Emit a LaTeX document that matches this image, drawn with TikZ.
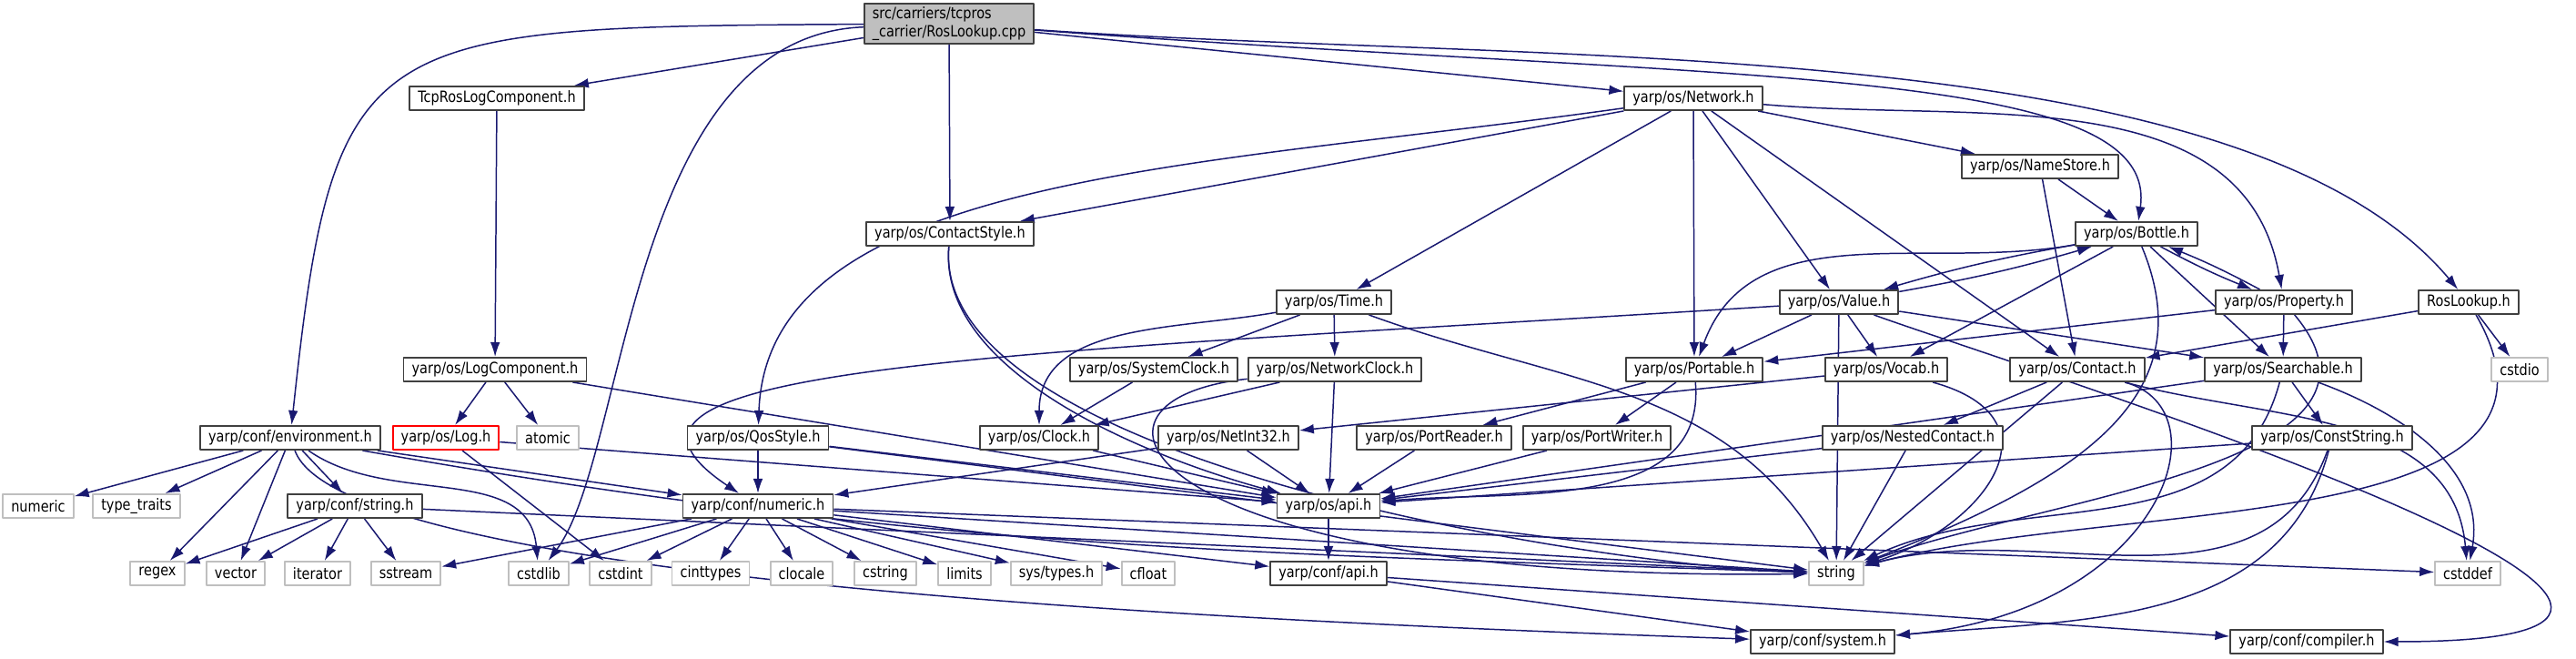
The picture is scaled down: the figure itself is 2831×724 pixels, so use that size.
\documentclass[tikz,border=0pt]{standalone}
\usepackage{fontspec}
\setmainfont{DejaVu Sans}[FakeStretch=0.85]
\usetikzlibrary{arrows.meta}

\definecolor{linkblue}{HTML}{191970}
\definecolor{sysgray}{HTML}{BFBFBF}
\definecolor{boxedge}{HTML}{404040}

\pgfdeclarelayer{edges}
\pgfsetlayers{edges,main}

\begin{document}
\begin{tikzpicture}[x=0.1875pt, y=0.1875pt, line cap=round, line join=round,
    dep/.style={draw=linkblue, line width=0.28pt, -{Latex[length=3pt,width=2pt]}},
    every edge/.style={dep}]

    % Stile dei blocchi
    \tikzset{file/.style={draw=boxedge, line width=0.35pt, fill=white, rectangle, minimum height=4.9pt,
                          inner xsep=1.7pt, inner ysep=0.6pt, font=\fontsize{3.2}{3.8}\selectfont},
             sys/.style={file, draw=sysgray},
             missing/.style={file, draw=red},
             rootfile/.style={file, fill=sysgray, align=left}}

    \useasboundingbox (0,0) rectangle (2831,-724);

    % Livello 0-3
    \node[rootfile] (root) at (1043,-26) {src/carriers/tcpros\\\_carrier/RosLookup.cpp};
    \node[file] (tcplog) at (546,-108) {TcpRosLogComponent.h};
    \node[file] (network) at (1861,-108) {yarp/os/Network.h};
    \node[file] (namestore) at (2242,-183) {yarp/os/NameStore.h};
    \node[file] (cstyle) at (1044,-257) {yarp/os/ContactStyle.h};
    \node[file] (bottle) at (2348,-257) {yarp/os/Bottle.h};
    \node[file] (time) at (1466,-332) {yarp/os/Time.h};
    \node[file] (value) at (2021,-332) {yarp/os/Value.h};
    \node[file] (property) at (2510,-332) {yarp/os/Property.h};
    \node[file] (roslookuph) at (2713,-332) {RosLookup.h};

    % Livello 4
    \node[file] (logcomp) at (544,-406) {yarp/os/LogComponent.h};
    \node[file] (sysclock) at (1268,-406) {yarp/os/SystemClock.h};
    \node[file] (netclock) at (1467,-406) {yarp/os/NetworkClock.h};
    \node[file] (portable) at (1862,-406) {yarp/os/Portable.h};
    \node[file] (vocab) at (2073,-406) {yarp/os/Vocab.h};
    \node[file] (contact) at (2283,-406) {yarp/os/Contact.h};
    \node[file] (searchable) at (2509,-406) {yarp/os/Searchable.h};
    \node[sys] (cstdio) at (2769,-406) {cstdio};

    % Livello 5
    \node[file] (env) at (319,-481) {yarp/conf/environment.h};
    \node[missing] (log) at (490,-481) {yarp/os/Log.h};
    \node[sys] (atomic) at (602,-481) {atomic};
    \node[file] (qos) at (833,-481) {yarp/os/QosStyle.h};
    \node[file] (clock) at (1142,-481) {yarp/os/Clock.h};
    \node[file] (netint) at (1350,-481) {yarp/os/NetInt32.h};
    \node[file] (preader) at (1576,-481) {yarp/os/PortReader.h};
    \node[file] (pwriter) at (1755,-481) {yarp/os/PortWriter.h};
    \node[file] (nested) at (2102,-481) {yarp/os/NestedContact.h};
    \node[file] (conststr) at (2563,-481) {yarp/os/ConstString.h};

    % Livello 6
    \node[sys] (stdnumeric) at (42,-556) {numeric};
    \node[sys] (typetraits) at (150,-556) {type\_traits};
    \node[file] (confstring) at (390,-556) {yarp/conf/string.h};
    \node[file] (confnumeric) at (833,-556) {yarp/conf/numeric.h};
    \node[file] (osapi) at (1460,-556) {yarp/os/api.h};

    % Livello 7-8
    \node[sys] (regex) at (173,-630) {regex};
    \node[sys] (vector) at (259,-630) {vector};
    \node[sys] (iterator) at (349,-630) {iterator};
    \node[sys] (sstream) at (446,-630) {sstream};
    \node[sys] (cstdlib) at (592,-630) {cstdlib};
    \node[sys] (cstdint) at (682,-630) {cstdint};
    \node[sys] (cinttypes) at (781,-630) {cinttypes};
    \node[sys] (clocale) at (881,-630) {clocale};
    \node[sys] (cstring) at (973,-630) {cstring};
    \node[sys] (limits) at (1060,-630) {limits};
    \node[sys] (systypes) at (1161,-630) {sys/types.h};
    \node[sys] (cfloat) at (1262,-630) {cfloat};
    \node[file] (confapi) at (1460,-630) {yarp/conf/api.h};
    \node[sys] (string) at (2018,-630) {string};
    \node[sys] (cstddef) at (2712,-630) {cstddef};
    \node[file] (system) at (2003,-705) {yarp/conf/system.h};
    \node[file] (compiler) at (2535,-705) {yarp/conf/compiler.h};

    % Frecce sotto i blocchi
    \begin{pgfonlayer}{edges}
    % Dipendenze del file principale
    \path (root) edge (tcplog) edge (cstyle) edge (network)
                 edge[out=-4, in=130, out looseness=0.9, in looseness=0.6] (roslookuph);
    \draw[dep] (root) .. controls (400,-30) and (367,-30) .. (env);
    \draw[dep] (root) .. controls (690,-40) and (690,-500) .. (cstdlib);
    \draw[dep] (root) .. controls (1900,-90) and (2375,-70) .. (bottle);
    \path (tcplog) edge (logcomp);
    \path (logcomp) edge (log) edge (atomic) edge (osapi);
    \path (log) edge (cstdint) edge (osapi);

    % Network.h
    \path (network) edge (cstyle) edge (time) edge (portable) edge (value)
                    edge (contact) edge (namestore)
                    edge[out=188, in=88, out looseness=1.2, in looseness=0.7] (qos)
                    edge[out=-5, in=100] (property);
    \path (namestore) edge (bottle) edge (contact);

    % Bottle, Value, Property (inclusioni reciproche)
    \path (bottle) edge[bend right=3] (value) edge[bend right=3] (property)
                   edge (vocab) edge (searchable)
                   edge[out=190, in=70] (portable);
    \draw[dep] (bottle) .. controls (2420,-430) and (2300,-520) .. (string);
    \path (value) edge[bend right=3] (bottle) edge (portable) edge (vocab)
                  edge (searchable) edge (string)
                  edge[out=-20, in=0, out looseness=0.6, in looseness=2.2] (compiler);
    \draw[dep] (value) .. controls (1100,-390) and (600,-400) .. (confnumeric);
    \path (property) edge[bend right=3] (bottle) edge (portable) edge (searchable)
                     edge[out=-50, in=20] (string);
    \path (roslookuph) edge (contact) edge (cstdio)
                       edge[out=-60, in=15] (string);

    % Livello 4 -> 5
    \path (time) edge (sysclock) edge (netclock)
                 edge[out=190, in=90] (clock)
                 edge[out=-20, in=120] (string);
    \path (sysclock) edge (clock);
    \path (netclock) edge (clock) edge (osapi);
    \draw[dep] (netclock) .. controls (1150,-440) and (1250,-640) .. (string);
    \path (cstyle) edge[out=-95, in=165, looseness=0.8] (osapi)
                   edge[out=-95, in=178, looseness=0.6] (string);
    \path (portable) edge (preader) edge (pwriter)
                     edge[out=-85, in=5] (osapi);
    \path (vocab) edge (netint);
    \draw[dep] (vocab) .. controls (2270,-460) and (2180,-580) .. (string);
    \path (contact) edge (nested) edge (string)
                    edge[out=-15, in=95] (cstddef)
                    edge[out=-15, in=5, out looseness=0.8, in looseness=2] (system);
    \path (searchable) edge (conststr) edge (osapi)
                       edge[out=-105, in=25] (string)
                       edge[out=-20, in=80] (cstddef);
    \path (nested) edge (string) edge (osapi);
    \path (conststr) edge (osapi)
                     edge[out=-110, in=15] (string)
                     edge[out=-105, in=5] (system);
    \path (clock) edge (osapi);
    \path (qos) edge (confnumeric) edge (osapi) edge (string);
    \path (netint) edge (osapi) edge (confnumeric);
    \path (preader) edge (osapi);
    \path (pwriter) edge (osapi);

    % yarp/conf
    \path (env) edge (stdnumeric) edge (typetraits) edge (regex) edge (vector)
                edge (confstring) edge (confnumeric)
                edge[out=-35, in=95] (cstdlib)
                edge[out=-10, in=178] (string)
                edge[out=-70, in=178, out looseness=0.25, in looseness=0.8] (system);
    \path (confstring) edge (regex) edge (vector) edge (iterator) edge (sstream) edge (string);
    \path (confnumeric) edge (sstream) edge (cstdlib) edge (cstdint) edge (cinttypes)
                        edge (clocale) edge (cstring) edge (limits) edge (systypes)
                        edge (cfloat) edge (confapi) edge (string) edge (cstddef);
    \path (osapi) edge (confapi);
    \path (confapi) edge (system) edge (compiler);
    \end{pgfonlayer}

\end{tikzpicture}
\end{document}
